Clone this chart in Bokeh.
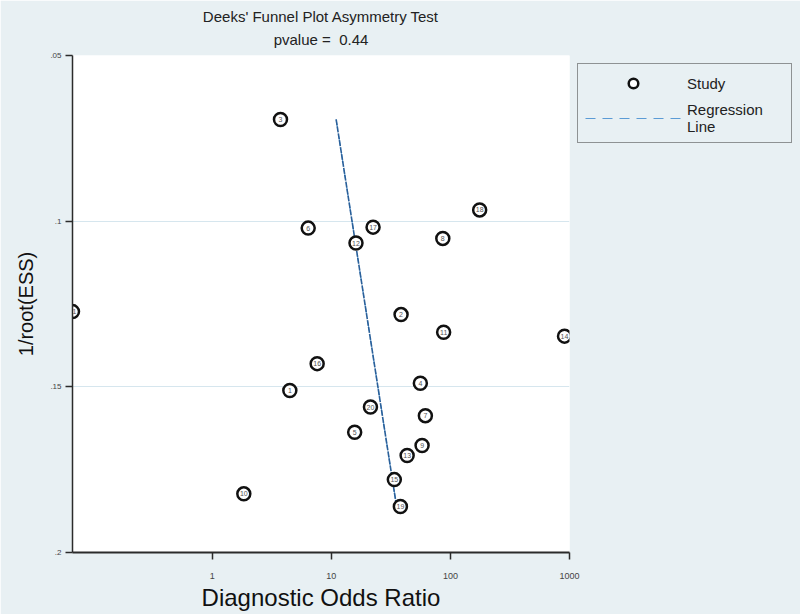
from bokeh.plotting import figure
from bokeh.models import Range1d, FixedTicker, Legend, LegendItem, ColumnDataSource, Title
from bokeh.embed import file_html
from bokeh.resources import INLINE
from bokeh.core.properties import value

# ---- data ----
study = [str(i) for i in range(1, 22)]
dor = [4.48, 38.5, 3.74, 55.9, 15.7, 6.39, 61.6, 86.3, 57.8, 1.84, 87.7,
       16.1, 43.3, 908.0, 33.8, 7.60, 22.4, 176.0, 38.0, 21.3, 0.067]
inv_root_ess = [0.1511, 0.1282, 0.0693, 0.1489, 0.1637, 0.1021, 0.1587, 0.1052,
                0.1677, 0.1823, 0.1335, 0.1066, 0.1707, 0.1347, 0.1780, 0.1430,
                0.1018, 0.0966, 0.1861, 0.1561, 0.1273]
reg_dor = [10.97, 35.3]
reg_y = [0.0693, 0.1861]

x_ticks = [1, 10, 100, 1000]
x_tick_labels = ["1", "10", "100", "1000"]
y_ticks = [0.05, 0.1, 0.15, 0.2]
y_tick_labels = [".05", ".1", ".15", ".2"]
grid_ticks = [0.1, 0.15]

title_line1 = "Deeks' Funnel Plot Asymmetry Test"
title_line2 = "pvalue =\u00a0\u00a00.44"

BG = "#e8f0f3"
FONT = "Liberation Sans"

src = ColumnDataSource(dict(x=dor, y=inv_root_ess, lab=study))
reg_src = ColumnDataSource(dict(x=reg_dor, y=reg_y))

p = figure(frame_width=497, frame_height=497, x_axis_type="log",
           x_range=Range1d(0.067, 1000), y_range=Range1d(0.2, 0.05),
           output_backend="svg", toolbar_location=None, title=None,
           min_border_left=72, min_border_right=231,
           min_border_top=55, min_border_bottom=62)
p.border_fill_color = BG
p.background_fill_color = "white"
p.outline_line_color = None

p.add_layout(Title(text=title_line2, align="center", vertical_align="top",
                   text_font=FONT, text_font_size="15px",
                   text_font_style="normal", text_color="#222222", standoff=12,
                   offset=0), "above")
p.add_layout(Title(text=title_line1, align="center", text_font=FONT, text_font_size="15px",
                   text_font_style="normal", text_color="#222222", standoff=0,
                   offset=0), "above")

# key-style line (shown in the legend), drawn underneath the plotted regression line
r_key = p.line("x", "y", source=reg_src, line_color="#5b9bd5", line_width=1.0, line_dash="10 7")
r_line = p.line("x", "y", source=reg_src, line_color="#2a609a", line_width=1.6, line_dash="6 1")
r_pts = p.scatter("x", "y", source=src, size=13, marker="circle",
                  fill_color="white", line_color="#111111", line_width=2.5)
p.text("x", "y", text="lab", source=src, text_font=value(FONT), text_font_size="7px",
       text_color="#555555", text_align="center", text_baseline="middle")

# axes
xa = p.xaxis[0]
xa.ticker = FixedTicker(ticks=x_ticks, minor_ticks=[])
xa.major_label_overrides = dict(zip(x_ticks, x_tick_labels))
xa.axis_label = "Diagnostic Odds Ratio"
xa.axis_label_text_font = FONT
xa.axis_label_text_font_size = "24px"
xa.axis_label_text_font_style = "normal"
xa.axis_label_text_color = "#111111"
xa.axis_label_standoff = 2
xa.major_label_text_font = FONT
xa.major_label_text_font_size = "9px"
xa.major_label_text_color = "#444444"
xa.major_label_standoff = 13
xa.axis_line_color = "#2b2b2b"
xa.axis_line_width = 2
xa.major_tick_line_color = "#2b2b2b"
xa.major_tick_line_width = 1.5
xa.major_tick_out = 7
xa.major_tick_in = 0
xa.minor_tick_line_color = None

ya = p.yaxis[0]
ya.ticker = FixedTicker(ticks=y_ticks, minor_ticks=[])
ya.major_label_overrides = dict(zip(y_ticks, y_tick_labels))
ya.axis_label = "1/root(ESS)"
ya.axis_label_text_font = FONT
ya.axis_label_text_font_size = "20px"
ya.axis_label_text_font_style = "normal"
ya.axis_label_text_color = "#111111"
ya.axis_label_standoff = 10
ya.major_label_text_font = FONT
ya.major_label_text_font_size = "8px"
ya.major_label_text_color = "#444444"
ya.major_label_standoff = 4
ya.axis_line_color = "#2b2b2b"
ya.axis_line_width = 1.5
ya.major_tick_line_color = "#2b2b2b"
ya.major_tick_line_width = 1.5
ya.major_tick_out = 7
ya.major_tick_in = 0
ya.minor_tick_line_color = None

p.xgrid.visible = False
p.ygrid.ticker = FixedTicker(ticks=grid_ticks)
p.ygrid.grid_line_color = "#d6e6ee"
p.ygrid.grid_line_width = 1.2

legend = Legend(items=[LegendItem(label="Study", renderers=[r_pts]),
                       LegendItem(label="Regression\nLine", renderers=[r_key])],
                location="top_left", margin=8, padding=7, spacing=6,
                glyph_width=96, glyph_height=24, label_standoff=6, label_width=97,
                label_text_font=FONT, label_text_font_size="15px", label_text_color="#222222",
                border_line_color="#333333", border_line_width=1.5,
                background_fill_color=BG, background_fill_alpha=1.0)
p.add_layout(legend, "right")

open("out.html", "w").write(file_html(p, INLINE))
